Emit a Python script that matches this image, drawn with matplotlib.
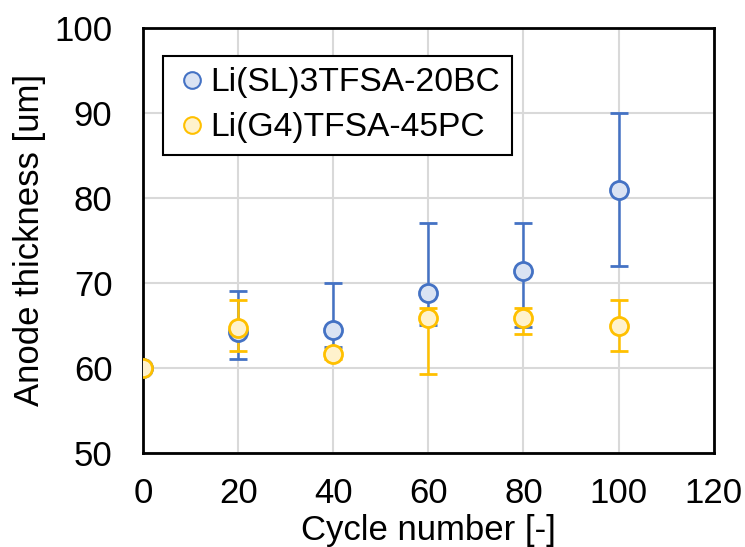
import matplotlib.pyplot as plt
from matplotlib.lines import Line2D
import numpy as np

plt.rcParams["font.family"] = ["Liberation Sans", "DejaVu Sans"]

cycles = [0, 20, 40, 60, 80, 100]

sl_label = "Li(SL)3TFSA-20BC"
sl_mean = [60, 64.2, 64.5, 68.8, 71.4, 80.9]
sl_low = [60, 61, 62.5, 65, 64.8, 72]
sl_high = [60, 69, 70, 77, 77, 90]

g4_label = "Li(G4)TFSA-45PC"
g4_mean = [60, 64.7, 61.6, 65.9, 65.9, 64.9]
g4_low = [60, 62, 61, 59.3, 64, 62]
g4_high = [60, 68, 62, 67, 67, 68]

fig, ax = plt.subplots(figsize=(7.45, 5.47), dpi=100)
fig.subplots_adjust(left=0.192, right=0.958, top=0.949, bottom=0.172)

series = [
    (sl_label, sl_mean, sl_low, sl_high, "#4472C4", "#DAE3F3"),
    (g4_label, g4_mean, g4_low, g4_high, "#FFC000", "#FFF2CC"),
]
handles = []
for label, mean, low, high, edge, face in series:
    mean = np.array(mean)
    yerr = [mean - np.array(low), np.array(high) - mean]
    ax.errorbar(cycles, mean, yerr=yerr, fmt="o", ms=13, mec=edge, mfc=face,
                mew=2, ecolor=edge, elinewidth=1.8, capsize=6.5, capthick=1.8,
                zorder=3)
    handles.append(Line2D([], [], ls="none", marker="o", ms=12, mec=edge,
                          mfc=face, mew=1.5, label=label))

ax.set_xlim(0, 120)
ax.set_ylim(50, 100)
ax.set_xticks(range(0, 121, 20))
ax.set_yticks(range(50, 101, 10))
ax.grid(True, color="#D9D9D9", linewidth=1.5)
ax.set_axisbelow(True)
for s in ax.spines.values():
    s.set_linewidth(2)
    s.set_color("black")
ax.tick_params(length=0, labelsize=25)
ax.tick_params(axis="y", pad=22)
ax.tick_params(axis="x", pad=17)
ax.set_xlabel("Cycle number [-]", fontsize=25, labelpad=3)
ax.set_ylabel("Anode thickness [um]", fontsize=25, labelpad=6)

leg = ax.legend(handles=handles, loc="upper left",
                bbox_to_anchor=(0.035, 0.935), fontsize=24.2,
                frameon=True, fancybox=False, edgecolor="black",
                handletextpad=0.05, handlelength=1.0, borderpad=0.35,
                labelspacing=0.42, borderaxespad=0, framealpha=1)
leg.get_frame().set_linewidth(1.5)

fig.savefig("out.png", dpi=100)
